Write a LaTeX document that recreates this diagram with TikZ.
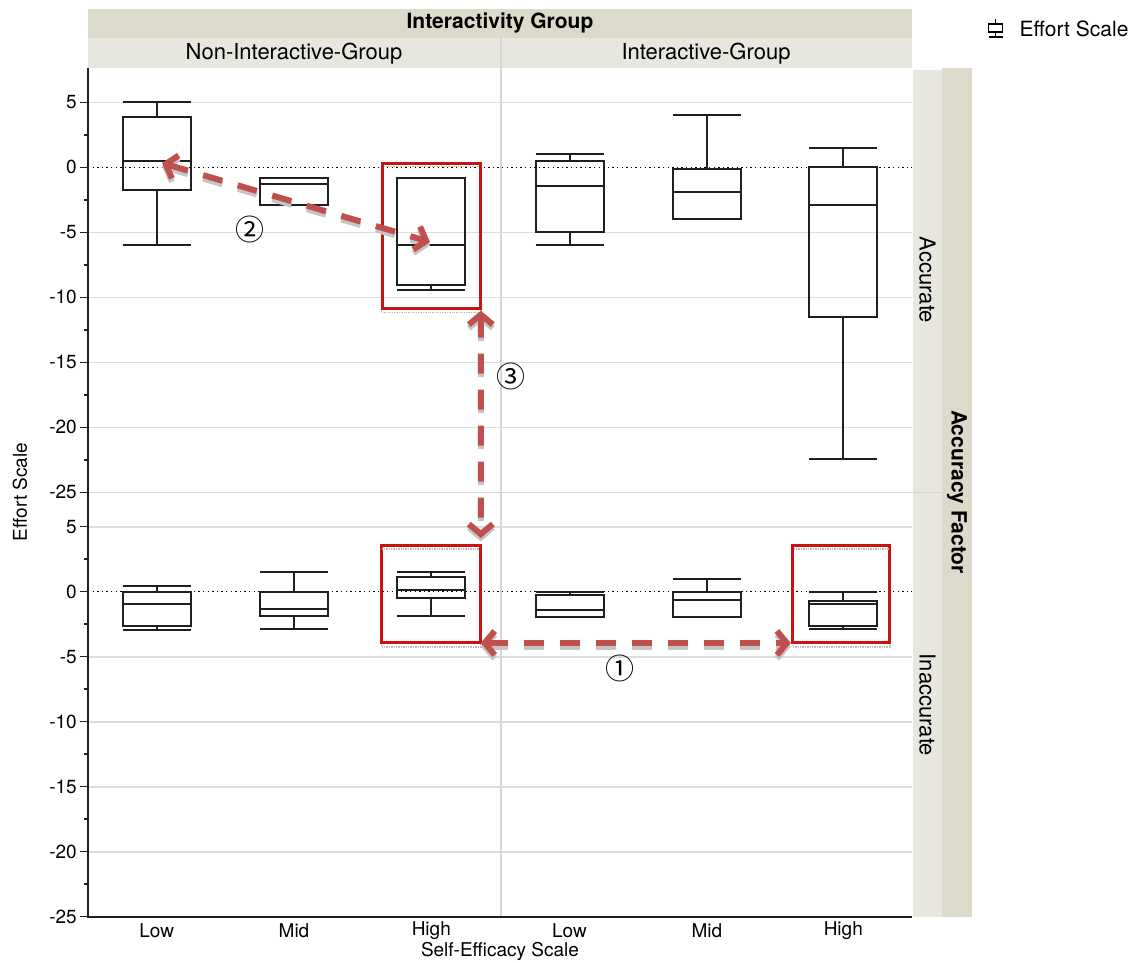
\documentclass[tikz,border=0pt]{standalone}
\usepackage{fontspec}
\setmainfont{TeX Gyre Heros}
\newfontfamily\circfont{Noto Sans CJK SC}
\usetikzlibrary{arrows.meta}

\definecolor{stripdark}{HTML}{DCDACB}
\definecolor{striplight}{HTML}{E8E7DF}
\definecolor{gridc}{HTML}{DDDDDD}
\definecolor{sepc}{HTML}{D6D6D6}
\definecolor{anno}{HTML}{C0504D}
\definecolor{hilite}{HTML}{CC1111}

\newcommand{\fs}[1]{\fontsize{#1}{#1}\selectfont}

% box plot: #1 name, #2 centre x, #3 y of zero, #4 low whisker, #5 q1,
% #6 median, #7 q3, #8 high whisker (values in data units, 13pt per unit)
\newcommand{\bplot}[8]{%
  \draw[boxln] ({#2},{#3-13*(#8)}) -- ({#2},{#3-13*(#7)})
               ({#2},{#3-13*(#5)}) -- ({#2},{#3-13*(#4)})
               ({#2-34},{#3-13*(#8)}) -- ({#2+34},{#3-13*(#8)})
               ({#2-34},{#3-13*(#4)}) -- ({#2+34},{#3-13*(#4)});
  \draw[boxln] ({#2-34},{#3-13*(#7)}) rectangle ({#2+34},{#3-13*(#5)});
  \draw[boxln] ({#2-34},{#3-13*(#6)}) -- ({#2+34},{#3-13*(#6)});
  \coordinate (#1-med) at ({#2},{#3-13*(#6)});
}

\begin{document}
\begin{tikzpicture}[x=1pt,y=-1pt,
  gridln/.style={gridc, line width=1.6pt},
  boxln/.style={black!88, line width=2pt},
  zeroln/.style={black, line width=1.4pt, dash pattern=on 1.4pt off 3.2pt},
  axisln/.style={black!88, line width=2pt},
  tickln/.style={black!88, line width=1.5pt},
  ticklab/.style={anchor=east, font=\fs{19}, inner sep=0pt},
  catlab/.style={font=\fs{19}, inner sep=0pt},
  hibox/.style={draw=hilite, line width=2pt, inner sep=0pt, anchor=north west},
  hishadow/.style={gray!55, line width=1.4pt, densely dotted},
  annoarrow/.style={anno, line width=6pt, dash pattern=on 20pt off 16pt,
    {Straight Barb[length=10pt,width=24pt]}-{Straight Barb[length=10pt,width=24pt]}},
  annoshadow/.style={annoarrow, draw=gray!45, transform canvas={yshift=-3.5pt}},
  circlab/.style={font=\circfont\fs{29}, inner sep=0pt}]

\useasboundingbox (0,0) rectangle (1140,962);

% ---- header strips ----
\fill[stripdark] (88,9) rectangle (912,38);
\fill[striplight] (88,38) rectangle (912,68);
\node[font=\fs{21}\bfseries, inner sep=0pt] (hdr) at (500,23) {Interactivity Group};
\node[font=\fs{22}, inner sep=0pt] (hdrni) at (294,53.5) {Non-Interactive-Group};
\node[font=\fs{22}, inner sep=0pt] (hdri) at (706,53.5) {Interactive-Group};

% ---- side strips ----
\fill[striplight] (913,70) rectangle (942,917);
\fill[stripdark] (942,68) rectangle (972,917);
\node[font=\fs{22}, rotate=-90, inner sep=0pt] (sacc) at (927.5,280) {Accurate};
\node[font=\fs{22}, rotate=-90, inner sep=0pt] (sinacc) at (927.5,705) {Inaccurate};
\node[font=\fs{21}\bfseries, rotate=-90, inner sep=0pt] (sfac) at (957,492) {Accuracy Factor};

% ---- grid lines ----
\foreach \v in {5,-5,-10,-15,-20} {
  \draw[gridln] (88,{167.3-13*\v}) -- (912,{167.3-13*\v});
  \draw[gridln] (88,{591.7-13*\v}) -- (912,{591.7-13*\v});
}
\draw[sepc, line width=1.6pt] (88,492.3) -- (942,492.3);
\draw[sepc, line width=2pt] (500.7,38) -- (500.7,917);

% ---- zero reference lines ----
\draw[zeroln] (88,167.3) -- (912,167.3);
\draw[zeroln] (88,591.7) -- (912,591.7);

% ---- axes, ticks and labels ----
\draw[axisln] (88,68) -- (88,917);
\draw[axisln, line width=2.5pt] (87,917) -- (912,917);
\foreach \v in {5,0,-5,-10,-15,-20,-25} {
  \draw[tickln] (80,{167.3-13*\v}) -- (88,{167.3-13*\v});
  \node[ticklab] at (77,{167.3-13*\v}) {\v};
  \draw[tickln] (80,{591.7-13*\v}) -- (88,{591.7-13*\v});
  \node[ticklab] at (77,{591.7-13*\v}) {\v};
}
\foreach \v in {2.5,-2.5,-7.5,-12.5,-17.5,-22.5} {
  \draw[tickln] (84,{167.3-13*\v}) -- (88,{167.3-13*\v});
  \draw[tickln] (84,{591.7-13*\v}) -- (88,{591.7-13*\v});
}
\node[font=\fs{19}, rotate=90, inner sep=0pt] (ytitle) at (20,492) {Effort Scale};
\foreach \cx/\lab in {156.7/Low,294/Mid,431.3/High,569.5/Low,706.8/Mid,843.3/High}
  \node[catlab] at (\cx,930.5) {\lab};
\node[font=\fs{19}, inner sep=0pt] (xtitle) at (500,951) {Self-Efficacy Scale};

% ---- box plots: Accurate ----
\bplot{aNL}{156.7}{167.3}{-6}{-1.75}{0.5}{3.9}{5}
\bplot{aNM}{294}{167.3}{-2.9}{-2.9}{-1.3}{-0.85}{-0.85}
\bplot{aNH}{431.3}{167.3}{-9.45}{-9.05}{-5.95}{-0.85}{-0.85}
\bplot{aIL}{569.5}{167.3}{-6}{-4.95}{-1.4}{0.5}{1}
\bplot{aIM}{706.8}{167.3}{-3.95}{-3.95}{-1.9}{-0.1}{4.05}
\bplot{aIH}{843.3}{167.3}{-22.4}{-11.5}{-2.9}{0}{1.5}

% ---- box plots: Inaccurate ----
\bplot{iNL}{156.7}{591.7}{-2.95}{-2.65}{-0.95}{0}{0.45}
\bplot{iNM}{294}{591.7}{-2.9}{-1.9}{-1.35}{0}{1.5}
\bplot{iNH}{431.3}{591.7}{-1.9}{-0.5}{0.1}{1.1}{1.5}
\bplot{iIL}{569.5}{591.7}{-1.95}{-1.95}{-1.4}{-0.25}{0}
\bplot{iIM}{706.8}{591.7}{-1.95}{-1.95}{-0.65}{0}{1}
\bplot{iIH}{843.3}{591.7}{-2.9}{-2.65}{-0.95}{-0.7}{0}

% ---- highlighted boxes ----
\node[hibox, minimum width=97.3pt, minimum height=144pt] (hlA) at (381.5,162.7) {};
\node[hibox, minimum width=97.6pt, minimum height=96pt] (hlB) at (381.2,545) {};
\node[hibox, minimum width=95.7pt, minimum height=96pt] (hlC) at (792.3,545) {};
\foreach \b in {hlA,hlB,hlC}
  \draw[hishadow] ([yshift=-4pt]\b.north west) rectangle ([yshift=-4pt]\b.south east);
\draw[hilite, line width=2pt] (hlA.north west) rectangle (hlA.south east);
\draw[hilite, line width=2pt] (hlB.north west) rectangle (hlB.south east);
\draw[hilite, line width=2pt] (hlC.north west) rectangle (hlC.south east);

% ---- annotation arrows ----
\coordinate (tipL) at (162,163);
\coordinate (tipH) at (430,242);
\draw[annoshadow] (tipL) -- (tipH);
\draw[annoshadow, shorten <=2pt, shorten >=7pt] (hlA.south east) -- (hlB.north east);
\draw[annoshadow, shorten >=1.5pt] (hlB.south east) -- (hlC.south west);
\draw[annoarrow] (tipL) -- (tipH);
\draw[annoarrow, shorten <=2pt, shorten >=7pt] (hlA.south east) -- (hlB.north east);
\draw[annoarrow, shorten >=1.5pt] (hlB.south east) -- (hlC.south west);

\node[circlab] (n1) at (620,668) {①};
\node[circlab] (n2) at (250,229) {②};
\node[circlab] (n3) at (511,376) {③};

% ---- legend ----
\draw[black, line width=1.5pt] (995.5,19) -- (995.5,24) (995.5,32) -- (995.5,37)
  (988.5,37) -- (1002.5,37);
\draw[black, line width=1.5pt] (988.5,24) rectangle (1002.5,32);
\node[font=\fs{21}, anchor=west, inner sep=0pt] (leg) at (1019.5,28.5) {Effort Scale};
\end{tikzpicture}
\end{document}
